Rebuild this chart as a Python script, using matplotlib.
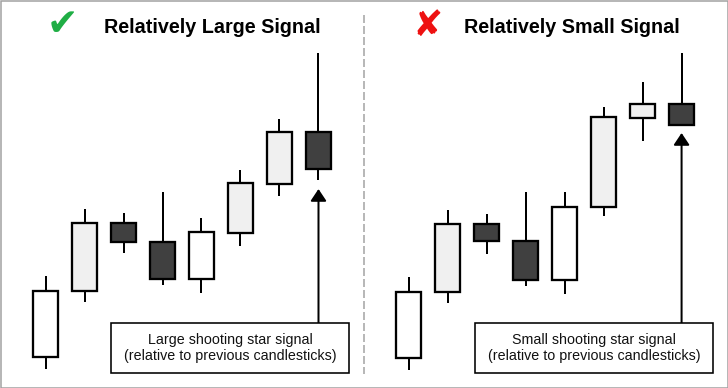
import matplotlib.pyplot as plt
from matplotlib.patches import Rectangle

# Candle data, price units (0 = bottom of the picture)
left_opens = [31, 97, 165, 146, 109, 155, 204, 256]
left_closes = [97, 165, 146, 109, 156, 205, 256, 219]
left_lows = [19, 86, 135, 103, 95, 142, 192, 208]
left_highs = [112, 179, 175, 196, 170, 218, 269, 335]
left_fills = ["white", "light", "dark", "dark", "white", "light", "light", "dark"]

right_opens = [30, 96, 164, 147, 108, 181, 270, 284]
right_closes = [96, 164, 147, 108, 181, 271, 284, 263]
right_lows = [18, 85, 134, 102, 94, 172, 247, 263]
right_highs = [111, 178, 174, 196, 196, 281, 306, 335]
right_fills = ["white", "light", "dark", "dark", "white", "light", "light", "dark"]

left_title = "Relatively Large Signal"
right_title = "Relatively Small Signal"
left_note = "Large shooting star signal\n(relative to previous candlesticks)"
right_note = "Small shooting star signal\n(relative to previous candlesticks)"
arrow_tips = [199, 255]
box_top = 64.7

fill_colors = {"white": "#ffffff", "light": "#f0f0f0", "dark": "#404040"}
PX = 0.72  # one pixel in points at dpi 100

plt.rcParams['font.family'] = ['Liberation Sans', 'DejaVu Sans']


def draw_panel(ax, opens, closes, lows, highs, fills, tip, note, xlim):
    x = list(range(len(opens)))
    ax.vlines(x, lows, highs, color="black", linewidth=2 * PX, zorder=1)
    bottoms = [min(o, c) for o, c in zip(opens, closes)]
    heights = [abs(c - o) for o, c in zip(opens, closes)]
    ax.bar(x, heights, bottom=bottoms, width=0.64,
           color=[fill_colors[f] for f in fills], edgecolor="black",
           linewidth=2.3 * PX, zorder=2)
    ax.annotate("", xy=(x[-1], tip), xytext=(x[-1], box_top),
                arrowprops=dict(arrowstyle="-|>,head_length=0.45,head_width=0.3",
                                lw=2 * PX, color="black",
                                mutation_scale=16, shrinkA=0, shrinkB=0),
                zorder=3)
    ax.add_patch(Rectangle((0.305, 0.0394), 0.654, 0.1274, transform=ax.transAxes,
                           facecolor="white", edgecolor="black",
                           linewidth=1.6 * PX, zorder=4))
    ax.text(0.632, 0.103, note, transform=ax.transAxes, ha="center", va="center",
            fontsize=10.3, linespacing=1.18, color="#111111", zorder=5)
    ax.set_xlim(*xlim)
    ax.set_ylim(0, 388)
    ax.axis("off")


def main():
    fig = plt.figure(figsize=(7.28, 3.88), dpi=100)
    ax1 = fig.add_axes([0, 0, 0.5, 1])
    ax2 = fig.add_axes([0.5, 0, 0.5, 1])

    draw_panel(ax1, left_opens, left_closes, left_lows, left_highs, left_fills,
               arrow_tips[0], left_note, (-1.167, 8.167))
    draw_panel(ax2, right_opens, right_closes, right_lows, right_highs, right_fills,
               arrow_tips[1], right_note, (-1.141, 8.19))

    # titles and icons
    fig.text(212 / 728, 1 - 33 / 388, left_title, ha="center", va="baseline",
             fontsize=14.2, fontweight="bold")
    fig.text(572 / 728, 1 - 33 / 388, right_title, ha="center", va="baseline",
             fontsize=14.2, fontweight="bold")
    fig.text(62 / 728, 1 - 25 / 388, "\u2714", ha="center", va="center",
             fontsize=27, color="#1fae45", family=["DejaVu Sans"])
    fig.text(428 / 728, 1 - 26 / 388, "\u2718", ha="center", va="center",
             fontsize=26, color="#ee1111", family=["DejaVu Sans"])

    # dashed separator and outer border
    fig.add_artist(plt.Line2D([364 / 728, 364 / 728], [1 - 15 / 388, 1 - 374 / 388],
                              color="#b8b8b8", linewidth=2 * PX,
                              linestyle=(0, (4, 1.5))))
    fig.add_artist(Rectangle((0.5 / 728, 0.5 / 388), 727 / 728, 387 / 388,
                             transform=fig.transFigure, fill=False,
                             edgecolor="#a0a0a0", linewidth=1.5 * PX))

    fig.savefig("out.png", dpi=100)
    plt.close(fig)


if __name__ == "__main__":
    main()
